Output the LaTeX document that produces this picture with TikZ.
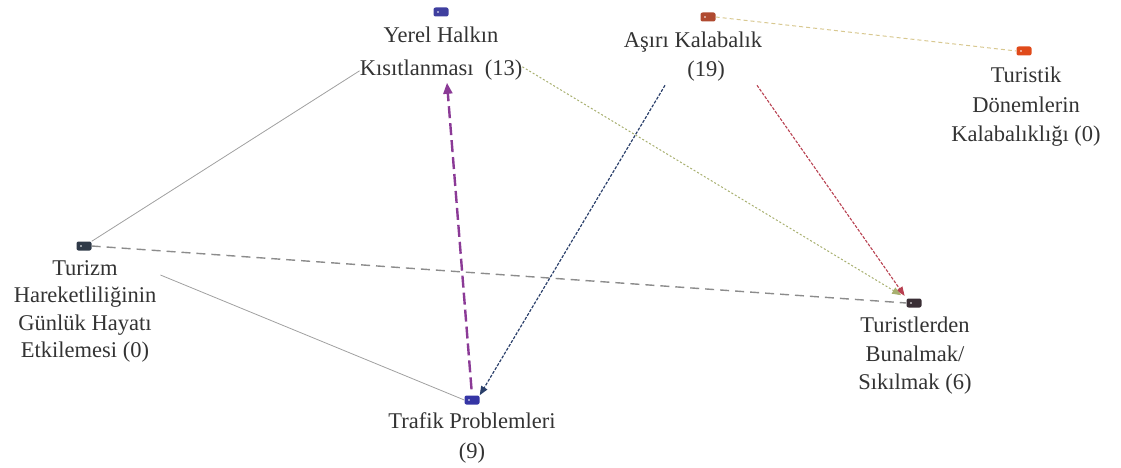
\documentclass[tikz,border=0pt]{standalone}
\usepackage{fontspec}
\setmainfont{Liberation Serif}
\usetikzlibrary{arrows.meta}
\definecolor{txtgray}{HTML}{333333}
\definecolor{icYerel}{HTML}{3F3F9F}
\definecolor{icAsiri}{HTML}{B04A30}
\definecolor{icTuristik}{HTML}{E04A1A}
\definecolor{icTurizm}{HTML}{2F3A48}
\definecolor{icTrafik}{HTML}{3535A5}
\definecolor{icBunal}{HTML}{3A2E35}
\definecolor{lnGray}{HTML}{A0A0A0}
\definecolor{lnDash}{HTML}{8C8C8C}
\definecolor{lnPurple}{HTML}{8B3A96}
\definecolor{lnBlue}{HTML}{2A3F6A}
\definecolor{lnRed}{HTML}{B84050}
\definecolor{lnOlive}{HTML}{A8B070}
\definecolor{lnSand}{HTML}{D8C890}
\begin{document}
\begin{tikzpicture}[x=1pt,y=-1pt,
  lbl/.style={align=center, inner sep=0pt, text=txtgray, anchor=north,
    font=\fontsize{22.5}{28.5}\selectfont},
  icon/.style={fill=#1, rounded corners=2pt, minimum width=15pt,
    minimum height=9pt, inner sep=0pt,
    path picture={\fill[white] ([xshift=4.5pt]path picture bounding box.west) circle (0.9pt);}},
  solidlink/.style={draw=lnGray, line width=0.8pt},
  greydash/.style={draw=lnDash, line width=1.4pt, dash pattern=on 9pt off 6pt},
  purplelink/.style={draw=lnPurple, line width=2.4pt, dash pattern=on 12pt off 5pt,
    -{Triangle[length=11pt,width=9pt]}},
  bluelink/.style={draw=lnBlue, line width=1.2pt, dash pattern=on 3pt off 1.5pt,
    -{Triangle[length=9pt,width=7pt]}},
  redlink/.style={draw=lnRed, line width=1.1pt, dash pattern=on 3pt off 1.5pt,
    -{Triangle[length=9pt,width=7pt]}},
  olivelink/.style={draw=lnOlive, line width=1pt, dash pattern=on 2pt off 2pt,
    -{Triangle[length=9pt,width=7pt]}},
  sandlink/.style={draw=lnSand, line width=1pt, dash pattern=on 4pt off 3pt}
]
\useasboundingbox (0,0) rectangle (1121,468);

% icons
\node[icon=icYerel] (yerelI) at (441,12) {};
\node[icon=icAsiri] (asiriI) at (708,17) {};
\node[icon=icTuristik] (turistikI) at (1024,51) {};
\node[icon=icTurizm] (turizmI) at (84,246) {};
\node[icon=icTrafik] (trafikI) at (472,400) {};
\node[icon=icBunal] (bunalI) at (914,303) {};

% labels
\node[lbl, font=\fontsize{22.5}{33}\selectfont] (yerelT) at (441,27) {Yerel Halkın\\Kısıtlanması\ \ (13)};
\node[lbl] (asiriT) at (693,32) {Aşırı Kalabalık\\\hspace*{26pt}(19)};
\node[lbl, font=\fontsize{22.5}{29.5}\selectfont] (turistikT) at (1026,67) {Turistik\\Dönemlerin\\Kalabalıklığı (0)};
\node[lbl, font=\fontsize{22.5}{27.5}\selectfont] (turizmT) at (85,260) {Turizm\\Hareketliliğinin\\Günlük Hayatı\\Etkilemesi (0)};
\node[lbl, font=\fontsize{22.5}{30}\selectfont] (trafikT) at (472,412) {Trafik Problemleri\\(9)};
\node[lbl] (bunalT) at (915,317) {Turistlerden\\Bunalmak/\\Sıkılmak (6)};

% connectors
\draw[solidlink] (turizmI.north east) -- ([yshift=10pt]yerelT.south west);
\draw[solidlink] ([shift={(4pt,-15pt)}]turizmT.north east) -- (trafikI.west);
\draw[greydash] (turizmI.east) -- (bunalI.west);
\draw[purplelink, shorten <=6pt] (trafikI.north) -- ([xshift=6pt,yshift=-2pt]yerelT.south);
\draw[bluelink] ([xshift=-28pt,yshift=-4pt]asiriT.south) -- (trafikI.north east);
\draw[redlink, shorten >=3pt] ([xshift=64pt,yshift=-4pt]asiriT.south) -- (bunalI.north west);
\draw[olivelink, shorten >=6pt] ([yshift=14pt]yerelT.south east) -- (bunalI.north west);
\draw[sandlink] (asiriI.east) -- (turistikI.west);
\end{tikzpicture}
\end{document}
